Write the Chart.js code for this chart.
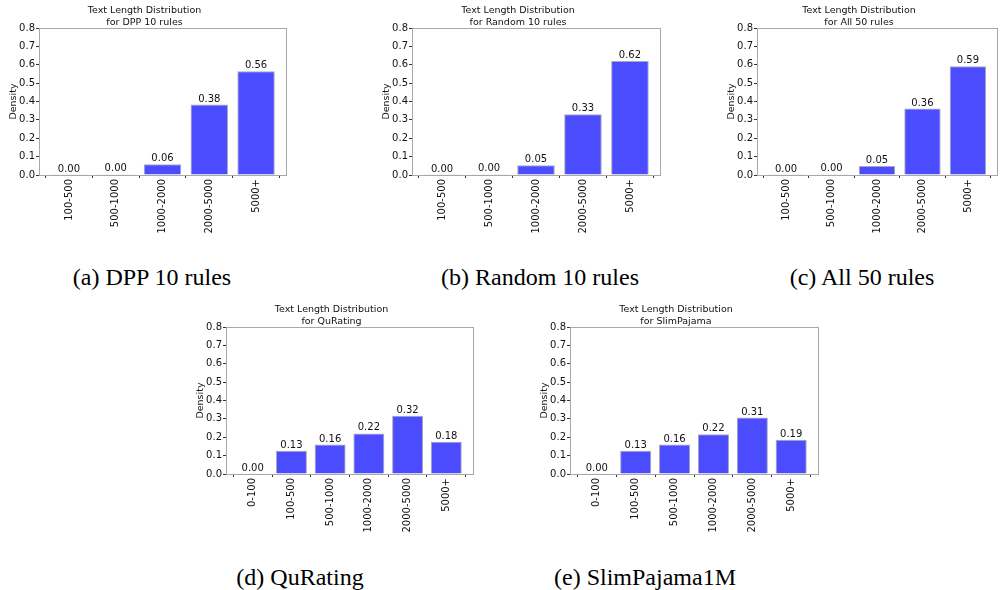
<!DOCTYPE html>
<html>
<head>
<meta charset="utf-8">
<script src="https://cdn.jsdelivr.net/npm/chart.js@4.4.1/dist/chart.umd.min.js"></script>
<style>
	html, body { margin: 0; padding: 0; background: #fff; }
	body { width: 1000px; height: 590px; position: relative; overflow: hidden; }
	canvas { position: absolute; }
	.caption {
		position: absolute;
		font-family: "Liberation Serif", "Times New Roman", serif;
		font-size: 24px;
		color: #000;
		white-space: nowrap;
		transform: translate(-50%, -50%);
	}
</style>
</head>
<body>

<canvas id="chartDpp" width="289" height="235"></canvas>
<canvas id="chartRandom" width="290" height="235"></canvas>
<canvas id="chartAll" width="282" height="235"></canvas>
<canvas id="chartQuRating" width="289" height="235"></canvas>
<canvas id="chartSlim" width="290" height="235"></canvas>

<div class="caption" style="left:152px; top:277px;">(a) DPP 10 rules</div>
<div class="caption" style="left:540px; top:277px;">(b) Random 10 rules</div>
<div class="caption" style="left:862px; top:277px;">(c) All 50 rules</div>
<div class="caption" style="left:300px; top:577px;">(d) QuRating</div>
<div class="caption" style="left:645px; top:577px;">(e) SlimPajama1M</div>

<script>
// Length buckets
const bucketsRules = ['100-500', '500-1000', '1000-2000', '2000-5000', '5000+'];
const bucketsCorpus = ['0-100', '100-500', '500-1000', '1000-2000', '2000-5000', '5000+'];

// Density per bucket
const densityDpp = [0.001, 0.0045, 0.058, 0.383, 0.564];
const densityRandom = [0.001, 0.0045, 0.053, 0.331, 0.62];
const densityAll = [0.001, 0.0045, 0.049, 0.362, 0.592];
const densityQuRating = [0.002, 0.127, 0.161, 0.221, 0.317, 0.176];
const densitySlim = [0.002, 0.127, 0.161, 0.217, 0.307, 0.187];

const yTicks = [0, 0.1, 0.2, 0.3, 0.4, 0.5, 0.6, 0.7, 0.8];

const FONT = 'DejaVu Sans';
const AXIS_GREY = '#a8a8a8';
const TEXT = '#111';

// frame around the plot area + value labels on top of each bar
const framePlugin = {
	id: 'frame',
	afterDatasetsDraw(chart) {
		const { ctx, chartArea: a } = chart;
		ctx.save();
		ctx.fillStyle = TEXT;
		ctx.font = '10px "' + FONT + '"';
		ctx.textAlign = 'center';
		ctx.textBaseline = 'bottom';
		const meta = chart.getDatasetMeta(0);
		meta.data.forEach((bar, i) => {
			const v = chart.data.datasets[0].data[i].y;
			ctx.fillText(v.toFixed(2), bar.x, bar.y - 0.5);
		});
		ctx.strokeStyle = AXIS_GREY;
		ctx.lineWidth = 1;
		ctx.strokeRect(Math.round(a.left) + 0.5, Math.round(a.top) + 0.5,
			Math.round(a.right - a.left), Math.round(a.bottom - a.top));
		ctx.restore();
	}
};

function drawDistribution(canvasId, left, top, titleName, labels, values) {
	const canvas = document.getElementById(canvasId);
	canvas.style.left = left + 'px';
	canvas.style.top = top + 'px';

	const n = labels.length;
	const pad = (n - 0.2) * 0.05;

	return new Chart(canvas, {
		type: 'bar',
		data: {
			datasets: [{
				data: values.map((v, i) => ({ x: i, y: v })),
				backgroundColor: 'rgba(0, 0, 255, 0.7)',
				borderColor: 'rgba(110, 110, 140, 0.6)',
				borderWidth: 1,
				barPercentage: 0.8,
				categoryPercentage: 1,
			}]
		},
		options: {
			responsive: false,
			animation: false,
			layout: { padding: { right: 6, left: 0, bottom: 0, top: 0 } },
			plugins: {
				legend: { display: false },
				tooltip: { enabled: false },
				title: {
					display: true,
					text: ['Text Length Distribution', 'for ' + titleName],
					color: TEXT,
					font: { family: FONT, size: 9.5, weight: 'normal', lineHeight: 1.2 },
					padding: { top: 5, bottom: 0.2 }
				}
			},
			scales: {
				x: {
					type: 'linear',
					offset: false,
					min: -0.4 - pad,
					max: n - 0.6 + pad,
					afterBuildTicks: axis => {
						axis.ticks = labels.map((_, i) => ({ value: i }));
					},
					afterFit: scale => { scale.height = 60; },
					border: { display: false },
					grid: { drawOnChartArea: false, drawTicks: true, tickLength: 3, color: '#333' },
					ticks: {
						minRotation: 90,
						maxRotation: 90,
						padding: 1,
						color: TEXT,
						font: { family: FONT, size: 10 },
						callback: value => labels[value]
					}
				},
				y: {
					min: 0,
					max: 0.8,
					afterBuildTicks: axis => {
						axis.ticks = yTicks.map(v => ({ value: v }));
					},
					afterFit: scale => { scale.width = 36; },
					border: { display: false },
					grid: { drawOnChartArea: false, drawTicks: true, tickLength: 3, color: '#333' },
					ticks: {
						padding: 1,
						color: TEXT,
						font: { family: FONT, size: 10 },
						callback: value => value.toFixed(1)
					},
					title: {
						display: true,
						text: 'Density',
						color: TEXT,
						font: { family: FONT, size: 9.5 },
						padding: { top: 5, bottom: 0 }
					}
				}
			}
		},
		plugins: [framePlugin]
	});
}

drawDistribution('chartDpp', 3, 0, 'DPP 10 rules', bucketsRules, densityDpp);
drawDistribution('chartRandom', 376, 0, 'Random 10 rules', bucketsRules, densityRandom);
drawDistribution('chartAll', 721, 0, 'All 50 rules', bucketsRules, densityAll);
drawDistribution('chartQuRating', 190, 299, 'QuRating', bucketsCorpus, densityQuRating);
drawDistribution('chartSlim', 534, 299, 'SlimPajama', bucketsCorpus, densitySlim);
</script>
</body>
</html>
